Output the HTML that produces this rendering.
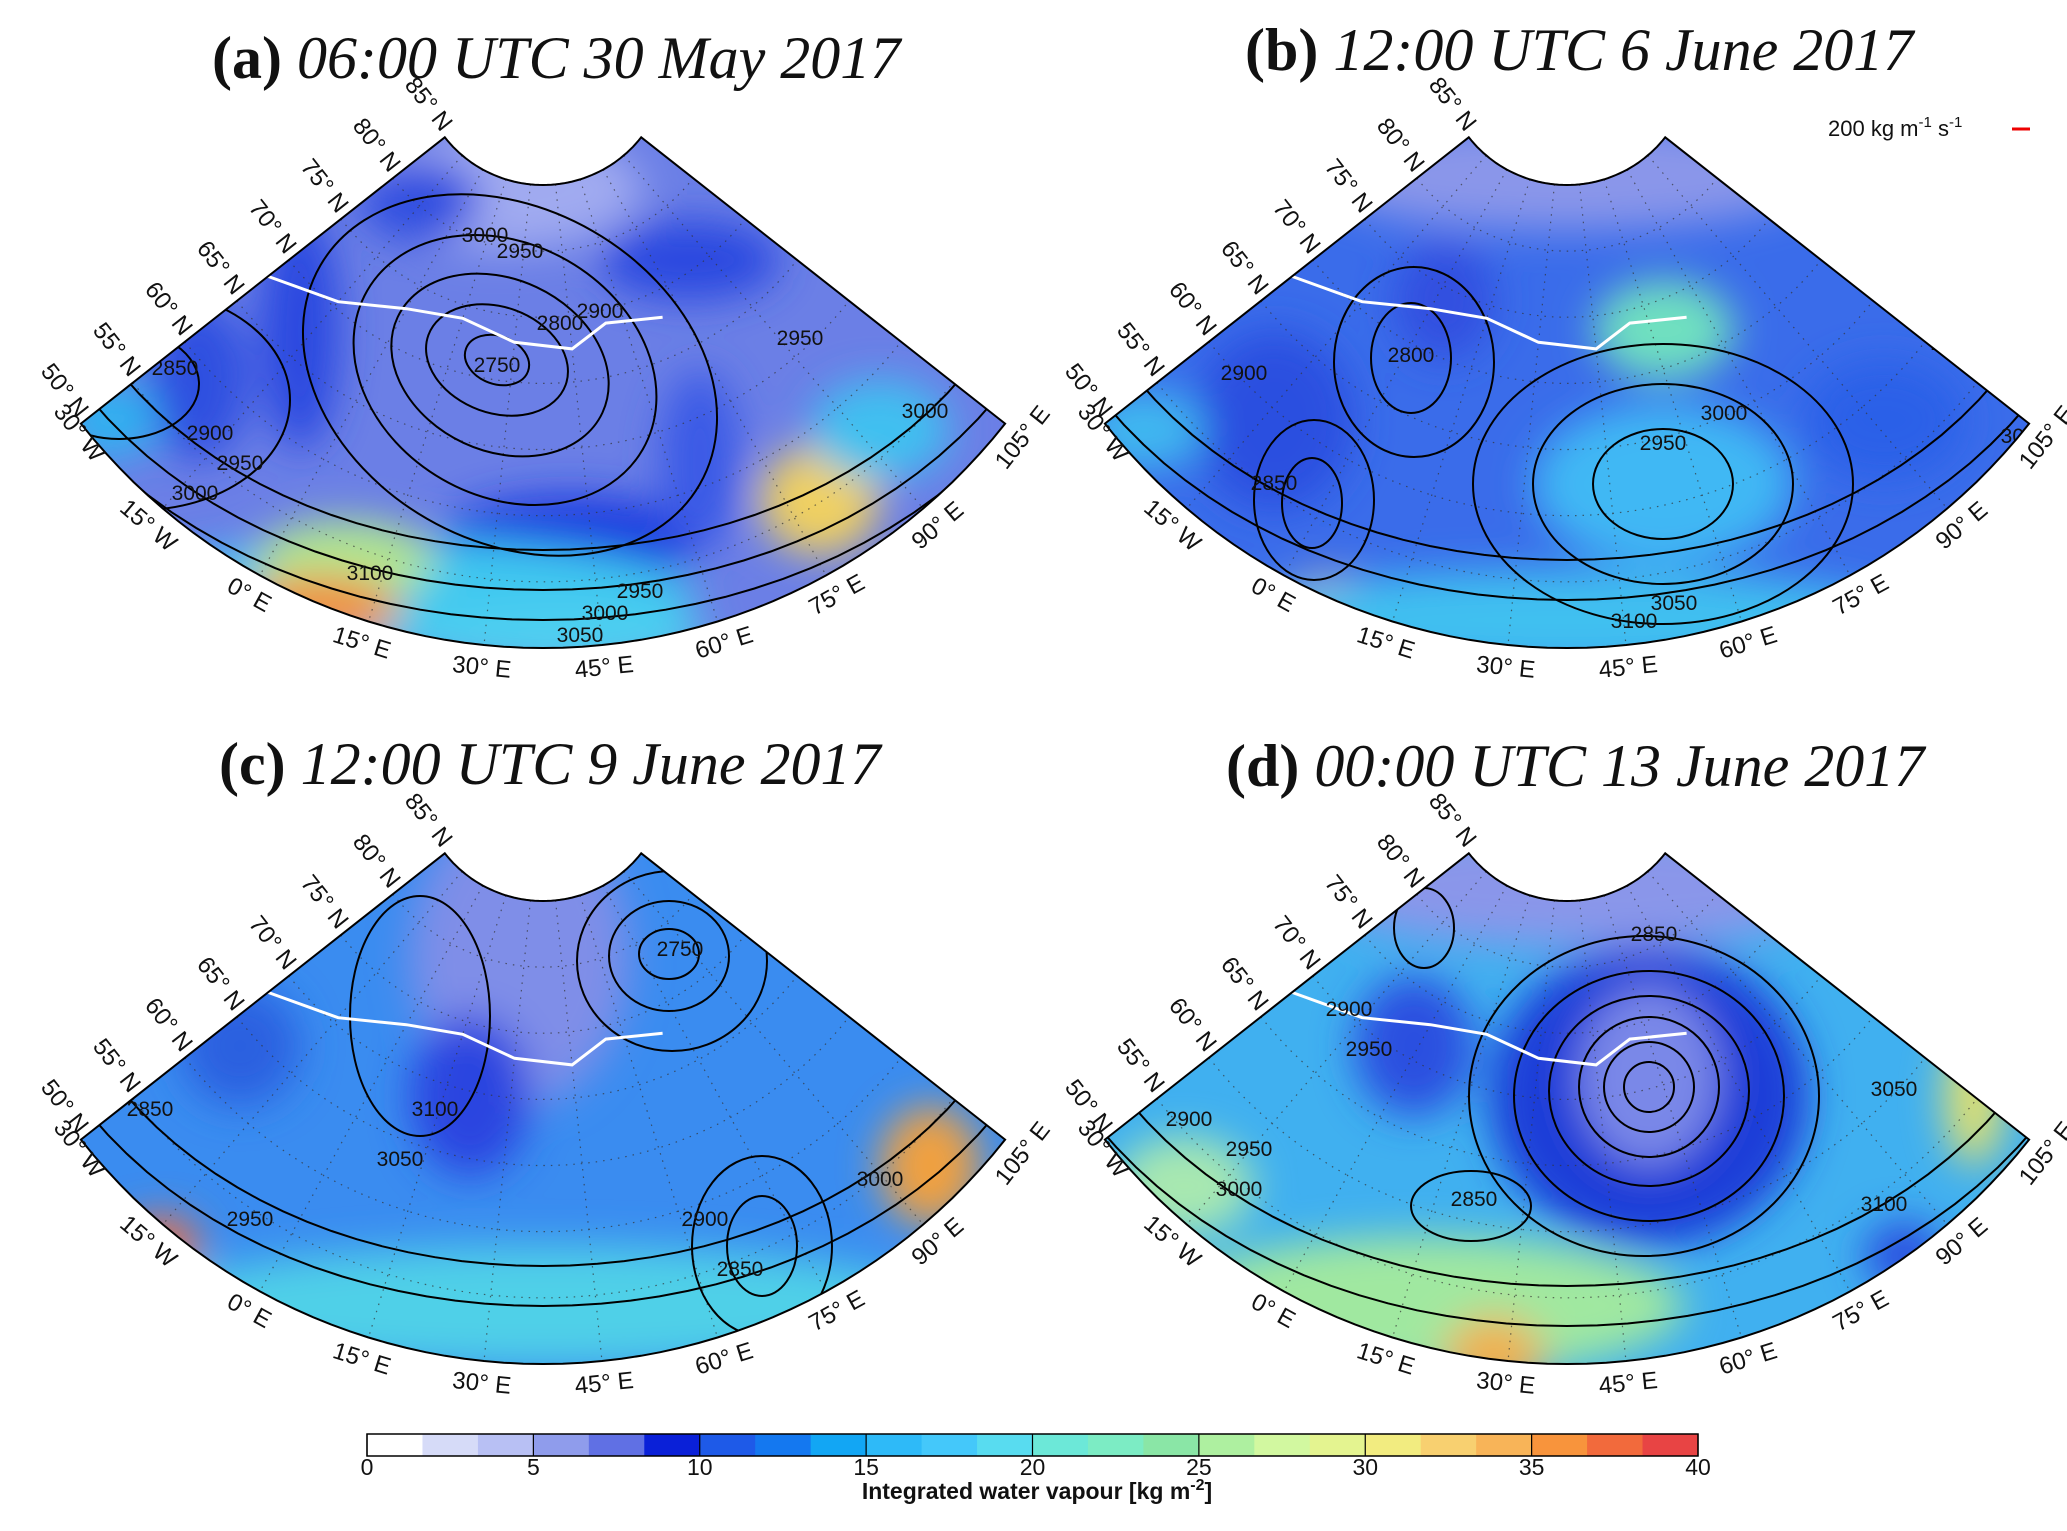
<!DOCTYPE html>
<html><head><meta charset="utf-8">
<style>
html,body{margin:0;padding:0;background:#fff;}
svg{display:block;}
.ttl{font-family:"Liberation Serif",serif;font-size:60px;fill:#111;}
.lab{font-family:"Liberation Sans",sans-serif;font-size:24px;fill:#111;}
.cl{font-family:"Liberation Sans",sans-serif;font-size:21px;fill:#111;}
</style></head>
<body>
<svg id="fig" width="2067" height="1531" viewBox="0 0 2067 1531" xmlns="http://www.w3.org/2000/svg">
<defs>
<filter id="blur" x="-50%" y="-50%" width="200%" height="200%"><feGaussianBlur stdDeviation="20"/></filter>
</defs>
<g id="panels"></g>
<g id="cbar"></g>
<text x="1828" y="136" class="lab" style="font-size:22px">200 kg m<tspan dy="-9" font-size="15">-1</tspan><tspan dy="9"> s</tspan><tspan dy="-9" font-size="15">-1</tspan></text>
<line x1="2012" y1="129" x2="2030" y2="129" stroke="#e00" stroke-width="3"/>
</svg>
<script>
const NS='http://www.w3.org/2000/svg';
function mk(tag,attrs,parent){const e=document.createElementNS(NS,tag);for(const k in attrs)e.setAttribute(k,attrs[k]);parent.appendChild(e);return e;}

// colorbar data
const cbColors=['#ffffff','#d6dbf8','#b8c0f4','#8f9cec','#6070e4','#0a20d8','#1e5ae8','#1478f0','#12a6f4','#2ebaf8','#44c8fa','#58dcf0','#6ce8d8','#7cecc4','#8ae6a6','#aef0a0','#d2f8a0','#e4f490','#f2ec80','#f8d070','#f8b458','#f8943c','#f26a3c','#e84444'];
const cbTicks=[0,5,10,15,20,25,30,35,40];
const cbMin=0, cbMax=40;

const titles=[['(a)','06:00 UTC 30 May 2017',212,78],['(b)','12:00 UTC 6 June 2017',1245,70],['(c)','12:00 UTC 9 June 2017',219,784],['(d)','00:00 UTC 13 June 2017',1226,786]];
const offsets=[[0,0],[1024,0],[0,716],[1024,716]];
const latTicks=[85,80,75,70,65,60,55,50];
const lonTicks=[-30,-15,0,15,30,45,60,75,90,105];
const baseColors=['#6b7fe6','#3a6cea','#3a8cf0','#40b0f0'];
const blobs=[
 [[503,190,140,60,'#a0aaf0'],[420,200,60,40,'#2f4ee0'],[690,260,90,40,'#2a4ae0'],[199,380,50,80,'#2f50e0'],[110,420,50,40,'#30b0f0'],[570,540,130,45,'#1f3ee0'],[700,460,40,90,'#3a5ae6'],[397,600,300,60,'#40c8f0'],[345,560,90,40,'#b0e890'],[320,610,80,35,'#f09040'],[820,500,60,55,'#f0d060'],[880,430,70,50,'#40c0f0'],[560,640,150,30,'#50d0f0'],[300,330,40,120,'#2a48e0']],
 [[543,175,260,55,'#8a96ea'],[640,330,70,50,'#70e0c0'],[639,484,130,80,'#40b8f4'],[250,420,80,90,'#2a50e0'],[310,610,60,35,'#f0b050'],[543,620,350,50,'#40c0f0'],[860,420,80,60,'#2a60e8'],[420,300,50,60,'#3050e0'],[120,430,60,40,'#40b8f0']],
 [[520,240,110,150,'#7f8ee8'],[470,380,60,80,'#2a44e0'],[160,530,40,30,'#f07040'],[930,450,50,60,'#f0a040'],[520,620,70,30,'#f0c050'],[543,590,400,60,'#50d0e8'],[240,330,60,60,'#2a60e0']],
 [[560,170,280,60,'#8a96ea'],[625,380,160,150,'#1f3ed8'],[625,360,70,90,'#7a88e8'],[390,330,60,70,'#2a50e0'],[400,590,260,70,'#a0e8a0'],[470,640,50,40,'#f0b050'],[950,380,30,70,'#e0e070'],[880,540,40,35,'#2a50e0'],[160,470,70,50,'#a8e8b0']]
];
const contours=[
 [[497,360,33,24,20],[497,360,73,53,20],[500,365,113,86,25],[505,370,159,126,30],[510,375,219,166,30],[119,384,80,55,0],[140,400,150,110,0]],
 [[387,358,40,55,0],[390,362,80,95,0],[288,503,30,45,0],[290,500,60,80,0],[639,484,70,55,0],[639,484,130,100,0],[639,484,190,140,0]],
 [[669,238,30,25,0],[669,240,60,55,0],[672,245,95,90,0],[762,530,35,50,0],[762,530,70,90,0],[420,300,70,120,0]],
 [[625,371,25,25,0],[625,371,45,45,0],[625,371,70,70,0],[625,375,100,95,0],[625,380,135,125,0],[620,380,175,160,0],[400,212,30,40,0],[447,490,60,35,0]]
];
const arcRadii=[[520,560,590],[530,570],[520,560],[540,580]];
const cLabels=[
 [['2750',497,372],['2800',560,330],['2900',600,318],['2950',520,258],['3000',485,242],['2850',175,375],['2900',210,440],['2950',240,470],['3000',195,500],['2950',640,598],['3000',605,620],['3050',580,642],['3100',370,580],['2950',800,345],['3000',925,418]],
 [['2800',387,362],['2850',250,490],['2950',639,450],['3000',700,420],['3050',650,610],['3100',610,628],['2900',220,380],['3050',1000,443],['2950',930,350],['2900',850,205]],
 [['2750',680,240],['2850',740,560],['2900',705,510],['3100',435,400],['3050',400,450],['2950',250,510],['3000',880,470],['2850',150,400]],
 [['2850',630,225],['2900',325,300],['2950',345,340],['2900',165,410],['2950',225,440],['2850',450,490],['3000',215,480],['3050',870,380],['3100',860,495],['2950',280,620]]
];
const CX=543,CY=60,R0=125,R1=588,HA=51.8;
function phi(lon){return (-HA+(lon+30)/135*2*HA)*Math.PI/180;}
function rho(lat){return R0+(85-lat)/35*(R1-R0);}
function pt(lon,lat,ox,oy){const p=phi(lon),r=rho(lat);return [ox+CX+r*Math.sin(p),oy+CY+r*Math.cos(p)];}

const root=document.getElementById('panels');
const svg=document.getElementById('fig');
const defs=svg.querySelector('defs');
offsets.forEach((o,i)=>{
  const [ox,oy]=o;
  const g=mk('g',{},root);
  
  
  let d='';
  for(let lon=-30;lon<=105;lon+=2.5){const p=pt(lon,50,ox,oy);d+=(d?'L':'M')+p[0].toFixed(1)+','+p[1].toFixed(1);}
  for(let lon=105;lon>=-30;lon-=2.5){const p=pt(lon,85,ox,oy);d+='L'+p[0].toFixed(1)+','+p[1].toFixed(1);}
  d+='Z';
  const cp=mk('clipPath',{id:'clip'+i},defs);
  mk('path',{d:d},cp);
  const inner=mk('g',{'clip-path':'url(#clip'+i+')'},g);
  const bg=mk('path',{d:d,fill:baseColors[i]},inner);
  
  
  const bl=mk('g',{filter:'url(#blur)'},inner);
  blobs[i].forEach(b=>{const e=mk('ellipse',{cx:ox+b[0],cy:oy+b[1],rx:b[2],ry:b[3],fill:b[4]},bl);
    
    });
  const gr=mk('g',{stroke:'#333',fill:'none','stroke-width':1.2,'stroke-dasharray':'1.5 6',opacity:0.7},inner);
  
  
  [80,75,70,65,60,55].forEach(lat=>{let dd='';for(let lon=-30;lon<=105;lon+=3){const p=pt(lon,lat,ox,oy);dd+=(dd?'L':'M')+p[0].toFixed(1)+','+p[1].toFixed(1);}mk('path',{d:dd},gr);});
  lonTicks.slice(1,-1).forEach(lon=>{const a=pt(lon,85,ox,oy),b=pt(lon,50,ox,oy);mk('line',{x1:a[0],y1:a[1],x2:b[0],y2:b[1]},gr);});
  const cg=mk('g',{stroke:'#000',fill:'none','stroke-width':2},inner);
  
  
  contours[i].forEach(c=>{mk('ellipse',{cx:ox+c[0],cy:oy+c[1],rx:c[2],ry:c[3],transform:`rotate(${c[4]} ${ox+c[0]} ${oy+c[1]})`},cg);});
  arcRadii[i].forEach(r=>{let dd='';for(let a=-60;a<=60;a+=3){const t=a*Math.PI/180;dd+=(dd?'L':'M')+(ox+CX+r*Math.sin(t)).toFixed(1)+','+(oy+CY+r*Math.cos(t)-30*Math.cos(t*2)).toFixed(1);}mk('path',{d:dd},cg);});
  let wd='';
  [[-30,68],[-15,70.5],[0,73],[15,74],[30,73],[45,72.5],[55,74],[70,73]].forEach(q=>{const p=pt(q[0],q[1],ox,oy);wd+=(wd?'L':'M')+p[0].toFixed(1)+','+p[1].toFixed(1);});
  const wl=mk('path',{d:wd,stroke:'#fff',fill:'none','stroke-width':3},inner);
  
  
  cLabels[i].forEach(l=>{const t=mk('text',{x:ox+l[1],y:oy+l[2],class:'cl','text-anchor':'middle'},inner);t.textContent=l[0];
    
    });
  const ol=mk('path',{d:d,fill:'none',stroke:'#000','stroke-width':2},g);
  
  
  latTicks.forEach(lat=>{const p=pt(-30,lat,ox,oy);const ang=HA*Math.PI/180;
    const x=p[0]-6*Math.cos(ang),y=p[1]-6*Math.sin(ang);
    const t=mk('text',{x:x,y:y,class:'lab','text-anchor':'end',transform:`rotate(${HA} ${x} ${y})`},g);
    t.textContent=lat+'° N';
    
    });
  lonTicks.forEach(lon=>{if(lon===-30){return;}const p=phi(lon);const r=R1+22;
    const x=ox+CX+r*Math.sin(p),y=oy+CY+r*Math.cos(p);
    const t=mk('text',{x:x,y:y+8,class:'lab','text-anchor':'middle',transform:`rotate(${-p*180/Math.PI} ${x} ${y})`},g);
    t.textContent=Math.abs(lon)+'° '+(lon<0?'W':'E');
    
    });
  {const p=pt(-30,50,ox,oy);const t=mk('text',{x:p[0]-8,y:p[1]+14,class:'lab','text-anchor':'middle',transform:`rotate(${HA} ${p[0]-8} ${p[1]+14})`},g);t.textContent='30° W';
    
    }
  const tt=mk('text',{x:titles[i][2],y:titles[i][3],class:'ttl'},g);
  
  
  const b1=mk('tspan',{'font-weight':'bold'},tt);b1.textContent=titles[i][0]+' ';
  const b2=mk('tspan',{'font-style':'italic'},tt);b2.textContent=titles[i][1];
});

const cb=document.getElementById('cbar');
const X0=367,X1=1698,Y0=1434,Y1=1456;
function cx(v){return X0+(v-cbMin)/(cbMax-cbMin)*(X1-X0);}
const bw=(cbMax-cbMin)/cbColors.length;
cbColors.forEach((c,k)=>{const r=mk('rect',{x:cx(k*bw),y:Y0,width:cx((k+1)*bw)-cx(k*bw)+0.5,height:Y1-Y0,fill:c},cb);
  
  });
mk('rect',{x:X0,y:Y0,width:X1-X0,height:Y1-Y0,fill:'none',stroke:'#000','stroke-width':1.5},cb);
cbTicks.forEach(v=>{mk('line',{x1:cx(v),y1:Y0,x2:cx(v),y2:Y1,stroke:'#000','stroke-width':1.2},cb);
  const t=mk('text',{x:cx(v),y:1475,class:'lab','text-anchor':'middle',style:'font-size:23px'},cb);t.textContent=v;
  
  });
const ct=mk('text',{x:1037,y:1499,class:'lab','text-anchor':'middle',style:'font-size:23px;font-weight:bold'},cb);


ct.innerHTML='Integrated water vapour [kg m<tspan dy="-9" font-size="16">-2</tspan><tspan dy="9">]</tspan>';
</script>
</body></html>
